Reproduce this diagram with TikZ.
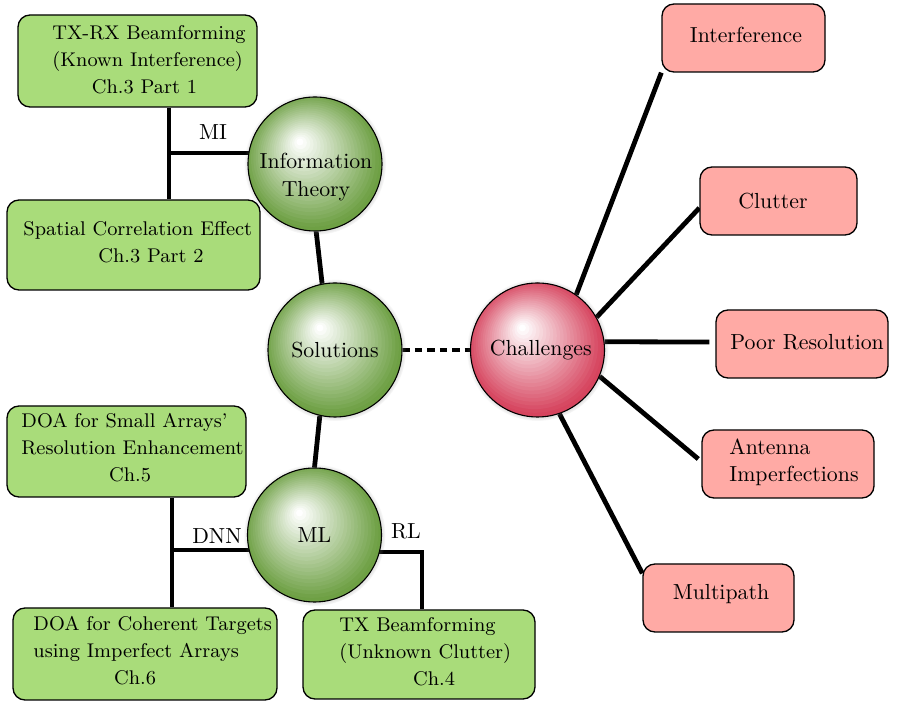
\documentclass[tikz,border=0pt]{standalone}
\usetikzlibrary{shadows,backgrounds,calc}
\newdimen\pxu \pxu=0.4587pt
\definecolor{gfill}{RGB}{169,220,122}
\definecolor{rfill}{RGB}{255,170,165}
\definecolor{gbase}{RGB}{110,160,68}
\definecolor{rbase}{RGB}{214,68,94}
\newcommand\ballfill[1]{%
  \foreach \bi in {0,...,26}{%
    \pgfmathsetmacro\bt{\bi/26}%
    \pgfmathsetmacro\bp{min(100,115*(1-\bt))}%
    \fill[#1!\bp!white] ($(path picture bounding box.center)+(\bt*-6.9pt,\bt*10.1pt)$) circle ({(1-\bt)*34pt+1.6pt});
  }}
\tikzset{
 box/.style={draw=black, line width=0.6pt, rounded corners=5.5pt, inner sep=0pt},
 gbox/.style={box, fill=gfill},
 rbox/.style={box, fill=rfill},
 ballnode/.style={circle, draw=black, line width=0.5pt, minimum size={134*\pxu}, inner sep=0pt,
   font=\fontsize{10}{12}\selectfont,
   circular drop shadow={shadow xshift=0pt, shadow yshift=0pt, shadow scale=1.06, opacity=0.6}},
 gball/.style={ballnode, path picture={\ballfill{gbase}}},
 rball/.style={ballnode, path picture={\ballfill{rbase}}},
 conn/.style={line width=2.2pt},
 txt/.style={inner sep=0pt, align=left, font=\fontsize{10}{12.6}\selectfont},
 gtxt/.style={inner sep=0pt, align=left, font=\fontsize{9.1}{12.6}\selectfont},
 lbl/.style={inner sep=0pt, font=\fontsize{10}{12}\selectfont},
}
\begin{document}
\begin{tikzpicture}[x=0.4587pt, y=-0.4587pt]
\useasboundingbox (0,0) rectangle (899,701);
% green boxes
\node[gbox, minimum width={239*\pxu}, minimum height={92*\pxu}] (b1) at (137.5,61) {};
\node[gbox, minimum width={253*\pxu}, minimum height={90*\pxu}] (b2) at (133.5,245) {};
\node[gbox, minimum width={239*\pxu}, minimum height={91*\pxu}] (b5) at (126.5,451.5) {};
\node[gbox, minimum width={264*\pxu}, minimum height={92*\pxu}] (b6) at (145,654) {};
\node[gbox, minimum width={232*\pxu}, minimum height={89*\pxu}] (b4) at (419,654.5) {};
% red boxes
\node[rbox, minimum width={163*\pxu}, minimum height={68*\pxu}] (interf) at (743.5,38) {};
\node[rbox, minimum width={157*\pxu}, minimum height={68*\pxu}] (clut) at (778.5,201) {};
\node[rbox, minimum width={172*\pxu}, minimum height={68*\pxu}] (poor) at (802,344) {};
\node[rbox, minimum width={172*\pxu}, minimum height={68*\pxu}] (ant) at (788,464) {};
\node[rbox, minimum width={151*\pxu}, minimum height={68*\pxu}] (mp) at (718.5,598) {};
% box texts (base anchor of a multi-line node = last line)
\node[gtxt, anchor=base west] (b1t) at (52,67) {TX-RX Beamforming\\(Known Interference)};
\node[gtxt, anchor=base] (b1c) at (144.5,94) {Ch.3 Part 1};
\node[gtxt, anchor=base west] (b2t) at (23,236) {Spatial Correlation Effect};
\node[gtxt, anchor=base] (b2c) at (151,263) {Ch.3 Part 2};
\node[gtxt, anchor=base west] (b5t) at (21,455) {DOA for Small Arrays'\\Resolution Enhancement};
\node[gtxt, anchor=base] (b5c) at (130,482) {Ch.5};
\node[gtxt, anchor=base west] (b6t) at (33,658) {DOA for Coherent Targets\\using Imperfect Arrays};
\node[gtxt, anchor=base] (b6c) at (135,685) {Ch.6};
\node[gtxt, anchor=base west] (b4t) at (339,659) {TX Beamforming\\(Unknown Clutter)};
\node[gtxt, anchor=base] (b4c) at (434,686) {Ch.4};
\node[txt, anchor=base] (interft) at (746,43) {Interference};
\node[txt, anchor=base] (clutt) at (773,209) {Clutter};
\node[txt, anchor=base west] (poort) at (730,350) {Poor Resolution};
\node[txt, anchor=base west] (antt) at (729,482) {Antenna\\Imperfections};
\node[txt, anchor=base] (mpt) at (721,600) {Multipath};
% balls
\node[gball] (info) at (315,164) {};
\node[txt, align=center] (infot) at (316,177) {Information\\Theory};
\node[gball] (sol) at (335,350) {Solutions};
\node[rball] (ch) at (537.5,350) {\hspace*{3pt}Challenges};
\node[gball] (ml) at (314.5,535) {\raisebox{-1.5pt}{ML}};
% junctions
\coordinate (j1) at (169,153);
\coordinate (j2) at (172,550);
\coordinate (j3) at (422,552);
% labels
\node[lbl] (mi) at (213,132) {MI};
\node[lbl] (dnn) at (217,536) {DNN};
\node[lbl] (rl) at (406,531) {RL};
\begin{scope}[on background layer]
\draw[conn] (j1 |- b1.south) -- (j1 |- b2.north);
\draw[conn] (j1) -- (j1 -| info);
\draw[conn] (j2 |- b5.south) -- (j2 |- b6.north);
\draw[conn] (j2) -- (j2 -| ml);
\draw[conn] (j3 -| ml) -- (j3) -- (j3 |- b4.north);
\draw[conn] (info.-89) -- (sol.101);
\draw[conn] (sol.-103) -- (ml.90);
\draw[conn, dash pattern=on 3.4pt off 2.3pt] (sol) -- (ch);
\draw[conn] (ch.55) -- (interf.south west);
\draw[conn] (ch.29) -- ([yshift=-3.2pt]clut.west);
\draw[conn] (ch.7) -- ([xshift=-2.75pt,yshift=0.9pt]poor.west);
\draw[conn] (ch.-23) -- ([xshift=-1.4pt,yshift=2.3pt]ant.west);
\draw[conn] (ch.-71) -- ([yshift=-4.6pt]mp.north west);
\end{scope}
\end{tikzpicture}
\end{document}
